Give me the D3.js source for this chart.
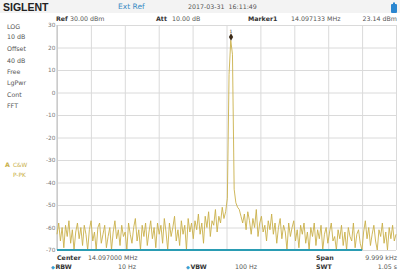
<!DOCTYPE html>
<html><head><meta charset="utf-8">
<script src="https://cdn.jsdelivr.net/npm/d3@7"></script>
<style>
html,body{margin:0;padding:0;background:#fff;}
svg{display:block;font-family:"DejaVu Sans",sans-serif;}
</style></head>
<body><svg id="c" width="400" height="271"></svg>
<script>
// ---- data ----
const centerMHz = 14.097000;
const spanHz = 9999;
const yTicks = [30, 20, 10, 0, -10, -20, -30, -40, -50, -60, -70];
const xDivisions = [0,1,2,3,4,5,6,7,8,9,10];
const leftLabels = ["LOG", "10 dB", "Offset", "40 dB", "Free", "LgPwr", "Cont", "FFT"];
const markerFreqMHz = 14.097133;
const markerLevel = 23.14;
const sweepProgress = 0.9;
const trace = [
 -63,-58,-66,-60,-69,-59,-64,-57,-67,-61,-70,-62,-58,-65,-60,-68,-59,-63,-70,-61,
 -57,-66,-62,-70,-60,-58,-67,-63,-59,-69,-64,-60,-70,-62,-57,-65,-61,-68,-59,-64,
 -62,-70,-58,-63,-67,-60,-56,-66,-61,-70,-59,-64,-58,-68,-62,-57,-65,-60,-69,-58,
 -63,-59,-67,-56,-62,-70,-58,-64,-60,-55,-66,-61,-68,-57,-63,-59,-70,-56,-62,-58,
 -65,-57,-61,-54,-63,-58,-67,-55,-60,-53,-64,-57,-59,-52,-62,-55,-58,-51,-56,-53,
 -47,8,23.14,17,-43,-49,-51,
 -52,-55,-58,-54,-61,-53,-57,-63,-56,-60,-52,-64,-58,-55,-62,-59,-66,-57,-61,-54,
 -63,-58,-67,-60,-56,-65,-59,-62,-70,-58,-64,-60,-57,-66,-61,-69,-59,-63,-58,-67,
 -62,-70,-60,-64,-58,-68,-61,-65,-59,-70,-63,-60,-67,-62,-58,-66,-64,-70,-61,-65,
 -59,-68,-62,-70,-60,-64,-66,-58,-69,-63,-61,-67,-70,-62,-57,-65,-60,-68,-63,-59,
 -66,-70,-61,-64,-58,-67,-62,-70,-60,-65,-59,-66,-63
];

// ---- layout ----
const svg = d3.select("#c");
const L = 57, R = 396, T = 25, B = 250;
const gray = "#666", trCol = "#c9b04a", gridCol = "#dadada";

const startHz = -spanHz/2, stopHz = spanHz/2;
const x = d3.scaleLinear().domain([startHz, stopHz]).range([L, R]);
const xi = d3.scaleLinear().domain([0, trace.length-1]).range([startHz, stopHz]);
const y = d3.scaleLinear().domain([-70, 30]).range([B, T]);

// header band
svg.append("rect").attr("x",0).attr("y",0).attr("width",400).attr("height",13).attr("fill","#f3f3f3");
svg.append("text").attr("x",3).attr("y",10.5).text("SIGLENT")
  .attr("font-size",10.5).attr("font-weight","bold").attr("fill","#222").attr("font-family","Liberation Sans, Arial, sans-serif");
svg.append("text").attr("x",118).attr("y",9).text("Ext Ref").attr("font-size",7.5).attr("fill","#3a8cc4");
svg.append("text").attr("x",188).attr("y",9).text("2017-03-31  16:11:49").attr("font-size",6.3).attr("fill","#555").attr("xml:space","preserve");
// battery
svg.append("rect").attr("x",391).attr("y",4).attr("width",6).attr("height",9).attr("rx",1).attr("fill","#2a86d0");
svg.append("rect").attr("x",393).attr("y",2.5).attr("width",2).attr("height",1.5).attr("fill","#2a86d0");

// row 2
const r2 = 21;
function t(xp, yp, s, opts={}) {
  const e = svg.append("text").attr("x",xp).attr("y",yp).text(s)
    .attr("font-size", opts.size||6.3).attr("fill", opts.fill||"#555");
  if (opts.bold) e.attr("font-weight","bold").attr("fill", opts.fill||"#333");
  if (opts.anchor) e.attr("text-anchor", opts.anchor);
  return e;
}
t(56, r2, "Ref", {bold:true});
t(70, r2, "30.00 dBm");
t(156, r2, "Att", {bold:true});
t(172, r2, "10.00 dB");
t(248, r2, "Marker1", {bold:true});
t(291, r2, "14.097133 MHz");
t(397, r2, "23.14 dBm", {anchor:"end"});

// left panel
const lp = [29, 39, 51, 63, 74, 85, 97, 108];
leftLabels.forEach((s,i)=> t(7, lp[i], s, {size:6.3}));
t(5, 167, "A", {bold:true, fill:trCol, size:6.3});
t(13, 167, "C&W", {fill:trCol, size:5.8});
t(13, 177, "P-PK", {fill:trCol, size:5.8});

// grid via axes
const gy = svg.append("g").attr("transform",`translate(${L},0)`)
  .call(d3.axisLeft(y).tickValues(yTicks).tickSize(-(R-L)).tickFormat(d=>d));
gy.select(".domain").remove();
gy.selectAll(".tick line").attr("stroke",gridCol).attr("stroke-width",1);
gy.selectAll(".tick text").attr("x",-1.5).attr("fill","#777").attr("font-size",5.8)
  .attr("font-family","DejaVu Sans, sans-serif");

const gx = svg.append("g").attr("transform",`translate(0,${B})`)
  .call(d3.axisBottom(x).tickValues(xDivisions.map(d=>startHz + d*spanHz/10)).tickSize(-(B-T)).tickFormat(""));
gx.select(".domain").remove();
gx.selectAll(".tick line").attr("stroke",gridCol).attr("stroke-width",1);

// frame left
svg.append("line").attr("x1",L).attr("x2",L).attr("y1",T).attr("y2",B).attr("stroke","#bbb");

// trace
const line = d3.line().x((d,i)=>x(xi(i))).y(d=>y(Math.max(-70,d)));
svg.append("path").datum(trace).attr("d",line).attr("fill","none")
  .attr("stroke",trCol).attr("stroke-width",0.9).attr("stroke-linejoin","round");

// sweep progress bar
svg.append("line").attr("x1",L).attr("x2",L+(R-L)*sweepProgress).attr("y1",B).attr("y2",B)
  .attr("stroke","#2a9cb3").attr("stroke-width",2);

// marker
const mx = x((markerFreqMHz-centerMHz)*1e6), my = y(markerLevel);
svg.append("path").attr("d", d3.symbol().type(d3.symbolDiamond).size(16)())
  .attr("transform",`translate(${mx},${my-3.5})`).attr("fill","#3b2a18");
svg.append("text").attr("x",mx).attr("y",my-7.5).attr("text-anchor","middle").text("1")
  .attr("font-size",4.5).attr("fill","#3b2a18");

// bottom rows
const b1 = 260, b2 = 269;
t(57, b1, "Center", {bold:true});
t(88, b1, "14.097000 MHz");
t(316, b1, "Span", {bold:true});
t(397, b1, "9.999 kHz", {anchor:"end"});
t(51, b2, "◆", {fill:"#3aa0d0", size:5});
t(55.5, b2, "RBW", {bold:true});
t(136, b2, "10 Hz", {anchor:"end"});
t(186, b2, "◆", {fill:"#3aa0d0", size:5});
t(190.5, b2, "VBW", {bold:true});
t(257, b2, "100 Hz", {anchor:"end"});
t(316, b2, "SWT", {bold:true});
t(397, b2, "1.05 s", {anchor:"end"});
</script></body></html>
